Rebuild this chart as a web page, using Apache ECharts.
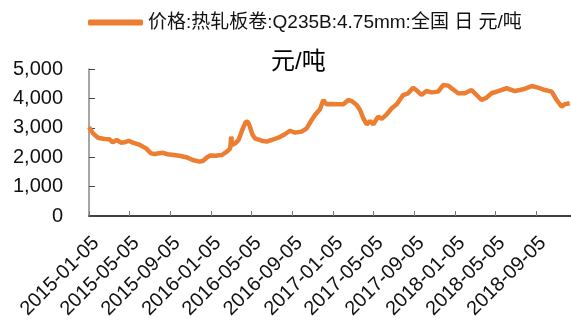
<!DOCTYPE html>
<html>
<head>
<meta charset="utf-8">
<script src="https://cdn.jsdelivr.net/npm/echarts@6/dist/echarts.min.js"></script>
<style>html,body{margin:0;padding:0;background:#fff;}#c{width:571px;height:322px;}</style>
</head>
<body>
<div id="c"></div>
<script>
var seriesName = '价格:热轧板卷:Q235B:4.75mm:全国 日 元/吨';
var titleText = '元/吨';
var tickDates = ['2015-01-05','2015-05-05','2015-09-05','2016-01-05','2016-05-05','2016-09-05','2017-01-05','2017-05-05','2017-09-05','2018-01-05','2018-05-05','2018-09-05'];
var axisMinDate = '2015-01-05';
var axisMaxDate = '2018-12-19';
var yTicks = [0, 1000, 2000, 3000, 4000, 5000];
var dates = [
'2015-01-05','2015-01-17','2015-02-01','2015-02-20','2015-03-07','2015-03-17','2015-03-29','2015-04-11','2015-04-21','2015-05-04',
'2015-05-16','2015-06-05','2015-06-25','2015-07-10','2015-07-20','2015-08-14','2015-08-29','2015-10-03','2015-10-23','2015-11-12',
'2015-12-02','2015-12-12','2015-12-24','2016-01-03','2016-01-18','2016-02-07','2016-02-22','2016-03-03','2016-03-06','2016-03-09',
'2016-03-18','2016-03-28','2016-04-08','2016-04-19','2016-04-25','2016-05-01','2016-05-08','2016-05-16','2016-06-05','2016-06-20',
'2016-07-05','2016-07-25','2016-08-14','2016-08-29','2016-09-13','2016-10-03','2016-10-18','2016-11-02','2016-11-12','2016-11-27',
'2016-12-07','2016-12-17','2016-12-27','2017-01-21','2017-02-05','2017-02-20','2017-03-02','2017-03-17','2017-03-27','2017-04-06',
'2017-04-16','2017-04-26','2017-05-06','2017-05-20','2017-05-31','2017-06-15','2017-06-30','2017-07-15','2017-08-03','2017-08-18',
'2017-09-02','2017-09-15','2017-09-27','2017-10-12','2017-10-27','2017-11-16','2017-12-01','2017-12-16','2017-12-26','2018-01-15',
'2018-02-04','2018-02-24','2018-03-11','2018-03-26','2018-04-10','2018-04-25','2018-05-15','2018-06-09','2018-07-04','2018-07-29',
'2018-08-23','2018-09-11','2018-10-02','2018-10-22','2018-11-06','2018-11-21','2018-11-30','2018-12-15'
];
var prices = [
3020,2810,2660,2620,2610,2510,2585,2495,2505,2560,
2495,2425,2300,2130,2110,2150,2100,2050,2000,1905,
1850,1870,1990,2060,2050,2075,2190,2300,2700,2415,
2470,2585,2925,3210,3200,3040,2790,2640,2560,2530,
2585,2665,2780,2900,2835,2870,2980,3265,3435,3630,
3945,3800,3810,3800,3800,3945,3910,3775,3605,3320,
3120,3230,3120,3380,3300,3460,3665,3800,4115,4175,
4365,4250,4115,4250,4205,4230,4455,4435,4345,4175,
4175,4285,4115,3945,4025,4175,4250,4345,4250,4310,
4420,4365,4285,4230,3945,3720,3800,3835
];

function ts(s) { var p = s.split('-'); return Date.UTC(+p[0], +p[1] - 1, +p[2]); }
function pad(n) { return (n < 10 ? '0' : '') + n; }
function fmt(v) { var d = new Date(v); return d.getUTCFullYear() + '-' + pad(d.getUTCMonth() + 1) + '-' + pad(d.getUTCDate()); }

var FONT = "'Liberation Sans', Arial, 'Noto Sans CJK SC', sans-serif";
var tickTs = tickDates.map(ts);
var chart = echarts.init(document.getElementById('c'), null, {renderer: 'canvas'});
chart.setOption({
  animation: false,
  backgroundColor: '#fff',
  textStyle: {fontFamily: FONT},
  title: {
    text: titleText, left: 266, top: 45,
    textStyle: {fontSize: 24, fontWeight: 'normal', color: '#000', fontFamily: FONT}
  },
  legend: {
    data: [seriesName], left: 83, top: 8,
    icon: 'roundRect', itemWidth: 55, itemHeight: 6, itemGap: 5,
    textStyle: {fontSize: 19, color: '#111', fontFamily: FONT}
  },
  grid: {left: 89, right: 0, top: 69, bottom: 106},
  xAxis: {
    type: 'value',
    min: ts(axisMinDate), max: ts(axisMaxDate),
    splitLine: {show: false},
    axisLine: {lineStyle: {color: '#000', width: 1.5}},
    axisTick: {show: true, inside: true, length: 5, customValues: tickTs, lineStyle: {color: '#777'}},
    axisLabel: {
      customValues: tickTs, rotate: 45, margin: 17, verticalAlign: 'top',
      fontSize: 20, color: '#111', fontFamily: FONT,
      formatter: function (v) { return fmt(v); }
    }
  },
  yAxis: {
    type: 'value', min: yTicks[0], max: yTicks[yTicks.length - 1], interval: 1000,
    splitLine: {show: false},
    axisLine: {show: true, lineStyle: {color: '#888', width: 1.5}},
    axisTick: {show: true, inside: true, length: 6, lineStyle: {color: '#444'}},
    axisLabel: {
      margin: 26, fontSize: 20, color: '#111', fontFamily: FONT,
      formatter: function (v) { return v.toLocaleString('en-US'); }
    }
  },
  series: [{
    name: seriesName, type: 'line', showSymbol: false,
    data: dates.map(function (d, i) { return [ts(d), prices[i]]; }),
    lineStyle: {color: '#ED7D31', width: 4.5},
    itemStyle: {color: '#ED7D31'}
  }]
});
</script>
</body>
</html>
